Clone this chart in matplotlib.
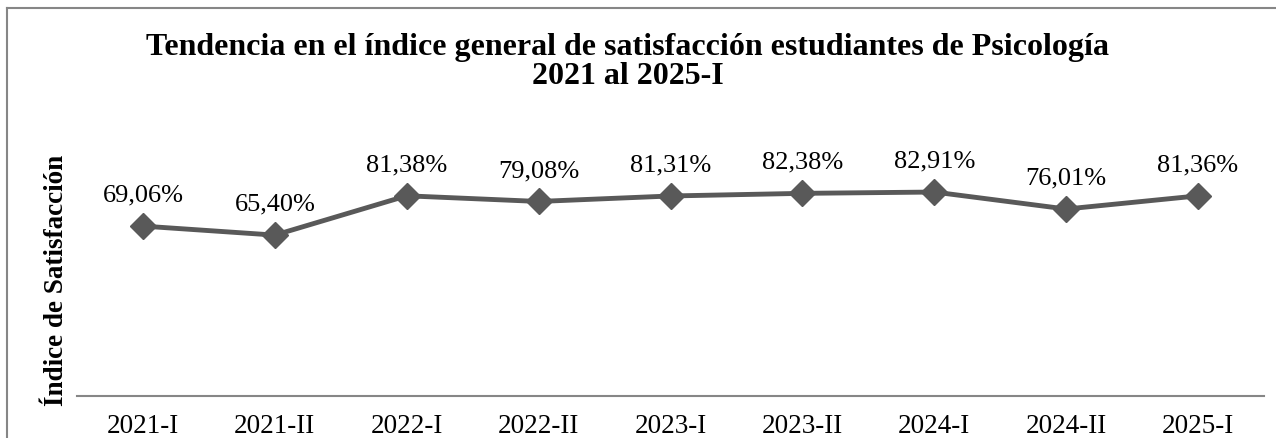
import matplotlib.pyplot as plt
from matplotlib.lines import Line2D

periodos = ['2021-I', '2021-II', '2022-I', '2022-II', '2023-I', '2023-II', '2024-I', '2024-II', '2025-I']
indice = [69.06, 65.40, 81.38, 79.08, 81.31, 82.38, 82.91, 76.01, 81.36]

plt.rcParams['font.family'] = ['Liberation Serif', 'DejaVu Serif']

fig = plt.figure(figsize=(12.76, 4.38), dpi=100)
ax = fig.add_axes([77 / 1276, 42 / 438, 1187 / 1276, 246 / 438])

x = range(len(periodos))
ax.plot(x, indice, color='#595959', lw=3.5, marker='D', markersize=13, zorder=3)
for i, v in zip(x, indice):
    ax.annotate(('%.2f' % v).replace('.', ',') + '%', (i, v), xytext=(0, 14),
                textcoords='offset points', ha='center', va='bottom', fontsize=19)

ax.set_xlim(-0.5, len(periodos) - 0.5)
ax.set_ylim(0, 100)
ax.set_xticks(list(x))
ax.set_xticklabels(periodos, fontsize=19.5)
ax.tick_params(axis='x', length=0, pad=13)
ax.set_yticks([])
for s in ['top', 'right', 'left']:
    ax.spines[s].set_visible(False)
ax.spines['bottom'].set_color('#868686')
ax.spines['bottom'].set_linewidth(1.5)

fig.text(57 / 1276, 1 - 280 / 438, 'Índice de Satisfacción', rotation=90, ha='center', va='center',
         fontsize=19.5, fontweight='bold')
fig.text(628 / 1276, 1 - 62 / 438, 'Tendencia en el índice general de satisfacción estudiantes de Psicología\n2021 al 2025-I',
         ha='center', va='center', fontsize=23, fontweight='bold', linespacing=1.0)

# chart frame (cropped on right and bottom)
fig.add_artist(Line2D([7 / 1276, 1.0], [1 - 8 / 438, 1 - 8 / 438], color='#868686', lw=1.5))
fig.add_artist(Line2D([7 / 1276, 7 / 1276], [0, 1 - 8 / 438], color='#868686', lw=1.5))

plt.savefig('out.png', dpi=100)
